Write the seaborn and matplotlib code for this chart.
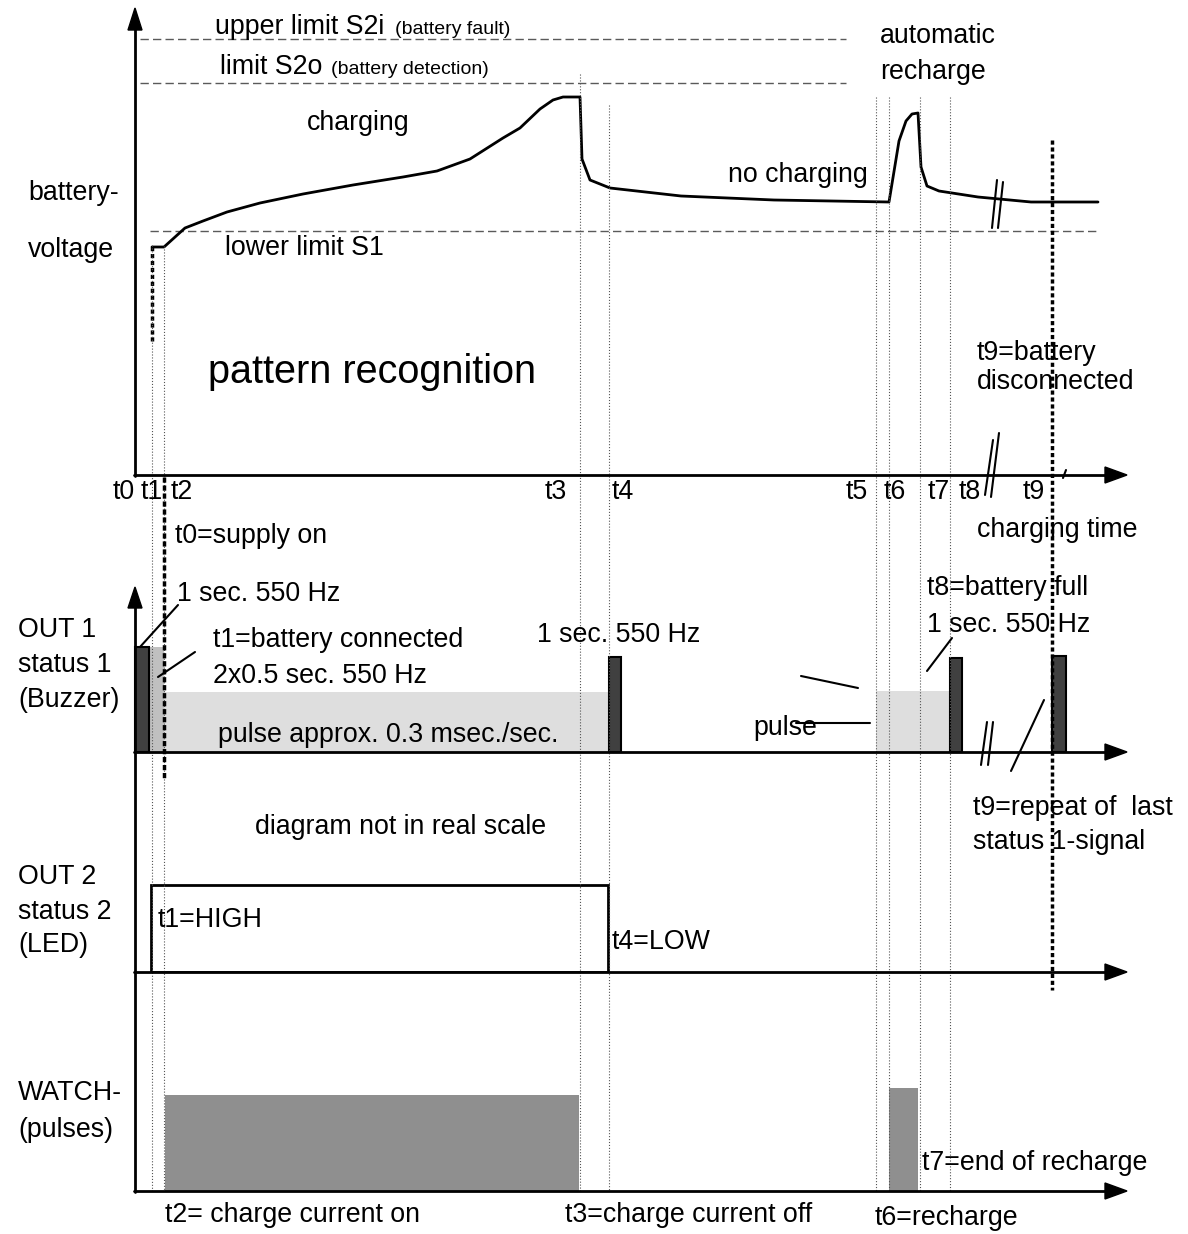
import seaborn as sns
import pandas as pd
import matplotlib
matplotlib.use("Agg")
import matplotlib.pyplot as plt

# time marks (diagram not in real scale, x in diagram units)
t_names = ["t1", "t2", "t3", "t4", "t5", "t6", "t7", "t8", "t9"]
t_marks = [152, 164, 580, 609, 876, 889, 920, 950, 1052]

# battery voltage curve
v_time = [152, 164, 185, 203, 227, 260, 303, 353, 403, 437, 470, 503, 520, 540, 553, 563,
          580, 582, 590, 610, 681, 774, 889, 899, 906, 912, 918, 921, 927, 939, 978, 1031, 1098]
v_volt = [2.28, 2.28, 2.47, 2.54, 2.63, 2.72, 2.81, 2.90, 2.98, 3.04, 3.16, 3.37, 3.47, 3.66, 3.75, 3.78,
          3.78, 3.16, 2.95, 2.87, 2.79, 2.75, 2.73, 3.34, 3.54, 3.61, 3.62, 3.08, 2.89, 2.84, 2.78, 2.73, 2.73]
contact_volt = [1.34, 2.28]

limit_volt = [4.36, 3.92, 2.44]
limit_start = [140, 140, 150]
limit_end = [846, 846, 1098]

# OUT1 status 1 (buzzer)
buzz_start = [135, 609, 950, 1052]
buzz_end = [149, 621, 962, 1066]
buzz_level = [1.05, 0.95, 0.94, 0.96]
conn_start, conn_end, conn_level = [149], [164], [1.05]
pulse_start = [164, 876]
pulse_end = [609, 950]
pulse_level = [0.60, 0.61]

# OUT2 status 2 (LED)
led_start, led_end, led_level = [151], [608], [0.87]

# WATCH pulses
watch_start = [165, 889]
watch_end = [579, 918]
watch_level = [0.96, 1.03]

sns.set_theme(style="white")
plt.rcParams["font.family"] = ["Liberation Sans", "DejaVu Sans"]

W, H = 1188, 1234
fig = plt.figure(figsize=(11.88, 12.34), dpi=100)


def panel(top, bottom, ymax):
    a = fig.add_axes([0, 1 - bottom / H, 1, (bottom - top) / H])
    a.set_xlim(0, W)
    a.set_ylim(0, ymax)
    a.axis("off")
    return a


ax_v = panel(0, 475, 4.75)
ax_o1 = panel(552, 752, 2)
ax_o2 = panel(772, 972, 2)
ax_w = panel(991, 1191, 2)

# voltage panel
for lv, s, e in zip(limit_volt, limit_start, limit_end):
    ax_v.plot([s, e], [lv, lv], color="#5a5a5a", lw=1, dashes=(6, 3))
df_v = pd.DataFrame({"time": v_time, "volt": v_volt})
sns.lineplot(data=df_v, x="time", y="volt", sort=False, estimator=None,
             color="black", lw=2, ax=ax_v)
ax_v.plot([t_marks[0], t_marks[0]], contact_volt, color="black", lw=2.5, dashes=(1.2, 0.8))
ax_v.set_xlim(0, W)
ax_v.set_ylim(0, 4.75)
ax_v.axis("off")


def bars(a, starts, ends, levels, **kw):
    a.bar(starts, levels, width=[e - s for s, e in zip(starts, ends)], align="edge", **kw)


bars(ax_o1, pulse_start, pulse_end, pulse_level, color="#dedede", lw=0)
bars(ax_o1, conn_start, conn_end, conn_level, color="#c0c0c0", lw=0)
bars(ax_o1, buzz_start, buzz_end, buzz_level, color="#404040", edgecolor="black", lw=1.5)
bars(ax_o2, led_start, led_end, led_level, fill=False, edgecolor="black", lw=2)
bars(ax_w, watch_start, watch_end, watch_level, color="#8f8f8f", lw=0)

# overlay in pixel units for axes, markers and labels
ov = fig.add_axes([0, 0, 1, 1])
ov.set_xlim(0, W)
ov.set_ylim(H, 0)
ov.axis("off")

# vertical time markers
tops = [245, 246, 74, 105, 97, 97, 97, 97]
for x, top in zip(t_marks[:-1], tops):
    ov.plot([x, x], [top, 1191], color="#555555", lw=0.8, ls=":")
ov.plot([t_marks[1]] * 2, [477, 778], color="black", lw=2.5, dashes=(1.5, 0.8))
ov.plot([t_marks[-1]] * 2, [140, 990], color="black", lw=2.5, dashes=(1.2, 0.8))

# axes with arrows
ax_lw = 2
ov.plot([135, 135], [476, 28], color="black", lw=ax_lw)
ov.fill([128, 142, 135], [30, 30, 8], color="black")
ov.plot([135, 135], [1192, 606], color="black", lw=ax_lw)
ov.fill([128, 142, 135], [608, 608, 587], color="black")
for y in [475, 752, 972, 1191]:
    ov.plot([134, 1108], [y, y], color="black", lw=ax_lw)
    ov.fill([1105, 1105, 1127], [y - 8, y + 8, y], color="black")

# leader lines, breaks
segs = [((140, 647), (178, 605)), ((158, 677), (195, 652)),
        ((801, 676), (858, 688)), ((796, 723), (870, 723)),
        ((952, 638), (927, 671)), ((1044, 700), (1011, 771)),
        ((981, 765), (987, 722)), ((988, 765), (993, 722)),
        ((985, 495), (993, 440)), ((991, 497), (999, 433)),
        ((992, 228), (997, 180)), ((998, 228), (1003, 182)),
        ((1063, 478), (1066, 470))]
for (x0, y0), (x1, y1) in segs:
    ov.plot([x0, x1], [y0, y1], color="black", lw=1.5)

fs = 19.3
texts = [
    (215, 27, "upper limit S2i", fs), (395, 30, "(battery fault)", 14),
    (220, 67, "limit S2o", fs), (331, 70, "(battery detection)", 14),
    (307, 123, "charging", fs), (728, 175, "no charging", fs),
    (880, 36, "automatic", fs), (880, 72, "recharge", fs),
    (28, 193, "battery-", fs), (28, 250, "voltage", fs),
    (225, 248, "lower limit S1", fs),
    (208, 372, "pattern recognition", 28.5),
    (977, 353, "t9=battery", fs), (977, 382, "disconnected", fs),
    (977, 530, "charging time", fs), (175, 536, "t0=supply on", fs),
    (177, 594, "1 sec. 550 Hz", fs), (213, 640, "t1=battery connected", fs),
    (213, 676, "2x0.5 sec. 550 Hz", fs), (537, 635, "1 sec. 550 Hz", fs),
    (927, 588, "t8=battery full", fs), (927, 625, "1 sec. 550 Hz", fs),
    (218, 735, "pulse approx. 0.3 msec./sec.", fs), (753, 728, "pulse", fs),
    (18, 630, "OUT 1", fs), (18, 665, "status 1", fs), (18, 700, "(Buzzer)", fs),
    (255, 827, "diagram not in real scale", fs),
    (973, 808, "t9=repeat of  last", fs), (973, 842, "status 1-signal", fs),
    (18, 877, "OUT 2", fs), (18, 912, "status 2", fs), (18, 945, "(LED)", fs),
    (158, 920, "t1=HIGH", fs), (612, 942, "t4=LOW", fs),
    (18, 1093, "WATCH-", fs), (18, 1130, "(pulses)", fs),
    (165, 1215, "t2= charge current on", fs), (565, 1215, "t3=charge current off", fs),
    (875, 1218, "t6=recharge", fs), (922, 1163, "t7=end of recharge", fs),
]
for x, y, s, size in texts:
    ov.text(x, y, s, fontsize=size, ha="left", va="center", color="black")

tick_x = [113, 141, 171, 545, 612, 846, 884, 928, 959, 1023]
for x, s in zip(tick_x, ["t0"] + t_names):
    ov.text(x, 492, s, fontsize=fs, ha="left", va="center", color="black")

fig.savefig("out.png", dpi=100)
